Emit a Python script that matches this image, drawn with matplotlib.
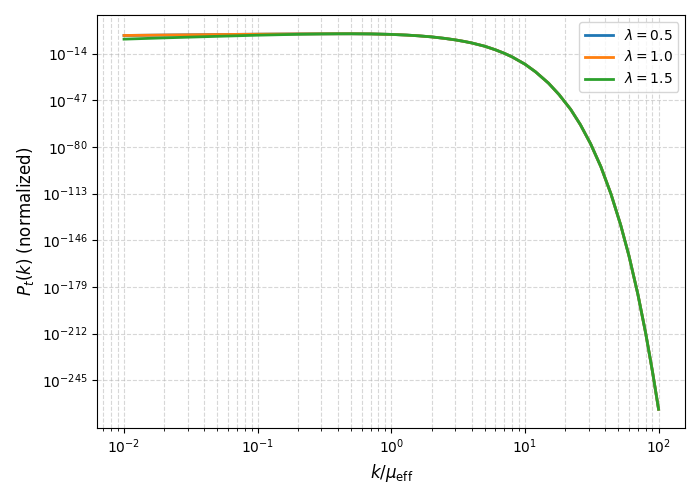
import numpy as np
import matplotlib
matplotlib.use('Agg')
import matplotlib.pyplot as plt
from matplotlib.ticker import NullLocator

# 読み取った値 (log10 P_t(k), 正規化済み)
k_low = [0.01, 0.02, 0.05, 0.1, 0.2, 0.3, 0.4]
logp_low_05 = [-1.2, -0.9, -0.55, -0.3, -0.1, -0.05, -0.01]
logp_low_10 = [-1.2, -0.9, -0.55, -0.3, -0.1, -0.05, -0.01]
logp_low_15 = [-3.8, -2.9, -1.8, -1.0, -0.37, -0.12, -0.02]

# 高波数側は3本とも重なっている
k_high = [0.5, 0.7, 1.0, 1.3, 1.6, 2.0, 2.5, 3.0, 3.5, 4.0, 5.0, 6.0, 7.0,
          8.0, 10.0, 12.0, 15.0, 18.0, 22.0, 26.0, 31.0, 37.0, 44.0, 52.0,
          60.0, 70.0, 80.0, 90.0, 100.0]
logp_high = [0.0, -0.1, -0.45, -0.92, -1.45, -2.2, -3.25, -4.3, -5.4, -6.5,
             -8.8, -11.3, -13.8, -16.3, -21.5, -26.9, -34.9, -43.0, -53.5,
             -64.3, -77.8, -94.0, -113.2, -135.1, -156.9, -184.2, -211.5,
             -238.8, -265.5]

lambdas = [0.5, 1.0, 1.5]
ytick_exps = [-14, -47, -80, -113, -146, -179, -212, -245]

fig, ax = plt.subplots(figsize=(7, 5), dpi=100)
for lam, low in zip(lambdas, [logp_low_05, logp_low_10, logp_low_15]):
    k = np.array(k_low + k_high)
    p = 10.0 ** np.array(low + logp_high)
    ax.plot(k, p, lw=2, label=rf'$\lambda = {lam}$')

ax.set_xscale('log')
ax.set_yscale('log')
ax.set_yticks(10.0 ** np.array(ytick_exps, dtype=float))
ax.yaxis.set_minor_locator(NullLocator())
ax.set_xlabel(r'$k/\mu_{\rm eff}$', fontsize=12)
ax.set_ylabel(r'$P_t(k)$ (normalized)', fontsize=12)
ax.grid(True, which='both', ls='--', alpha=0.5)
ax.legend(fontsize=10)

plt.subplots_adjust(left=0.139, right=0.979, top=0.97, bottom=0.144)
plt.savefig('out.png')
